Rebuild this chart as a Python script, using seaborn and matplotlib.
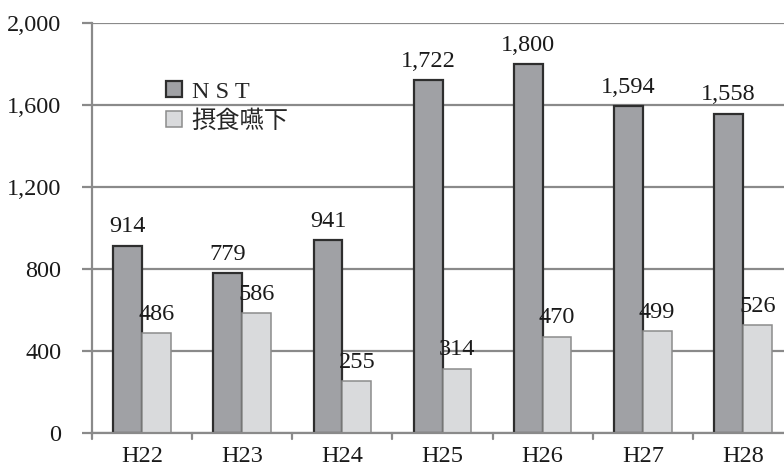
import matplotlib
matplotlib.use("Agg")
import matplotlib.pyplot as plt
import seaborn as sns
import pandas as pd
from matplotlib.patches import Patch

categories = ["H22", "H23", "H24", "H25", "H26", "H27", "H28"]
nst = [914, 779, 941, 1722, 1800, 1594, 1558]
sesshoku = [486, 586, 255, 314, 470, 499, 526]
series_names = ["N S T", "摂食嚥下"]
y_ticks = [0, 400, 800, 1200, 1600, 2000]

df = pd.DataFrame({
    "cat": categories * 2,
    "val": nst + sesshoku,
    "series": [series_names[0]] * len(categories) + [series_names[1]] * len(categories),
})

sns.set_style("white")
plt.rcParams["font.family"] = ["Liberation Serif", "Noto Sans CJK JP", "DejaVu Sans"]

FS = 17.5
fills = ["#a0a1a5", "#d9dadc"]
edges = ["#2e2e2e", "#8c8c8c"]
lws = [1.6, 1.1]
grid_c = "#8a8a8a"
txt_c = "#1a1a1a"

fig = plt.figure(figsize=(7.84, 4.68), dpi=100)
ax = fig.add_axes([92 / 784, 35 / 468, 701 / 784, 410 / 468])

sns.barplot(data=df, x="cat", y="val", hue="series", order=categories,
            hue_order=series_names, palette=fills, width=0.575, gap=0,
            saturation=1, legend=False, ax=ax, zorder=3)

for i, cont in enumerate(ax.containers):
    for bar in cont:
        bar.set_edgecolor(edges[i])
        bar.set_linewidth(lws[i])
    for bar in cont:
        h = bar.get_height()
        ax.annotate(f"{int(round(h)):,}", (bar.get_x() + bar.get_width() / 2, h),
                    xytext=(0, 9.5), textcoords="offset points",
                    ha="center", va="baseline", fontsize=FS, color=txt_c,
                    zorder=5)

ax.set_ylim(0, 2000)
ax.set_xlim(-0.5, len(categories) - 0.5)
ax.set_yticks(y_ticks)
ax.set_yticklabels([f"{v:,}" for v in y_ticks], fontsize=FS, color=txt_c)
ax.yaxis.grid(True, color=grid_c, linewidth=1.6, zorder=0)
ax.set_axisbelow(True)
ax.tick_params(axis="y", length=7, width=1.6, color=grid_c, pad=15, left=True)

ax.set_xticks(range(len(categories)))
ax.set_xticklabels(categories, fontsize=FS, color=txt_c)
ax.tick_params(axis="x", length=0, pad=9)
for k in range(len(categories) + 1):
    ax.plot([k - 0.5, k - 0.5], [0, -0.015], transform=ax.get_xaxis_transform(),
            color=grid_c, linewidth=1.6, clip_on=False, zorder=4)

ax.set_xlabel("")
ax.set_ylabel("")
for s in ["top", "right"]:
    ax.spines[s].set_visible(False)
for s in ["left", "bottom"]:
    ax.spines[s].set_color(grid_c)
    ax.spines[s].set_linewidth(1.6)
    ax.spines[s].set_zorder(4)

handles = [Patch(facecolor=fills[i], edgecolor=edges[i], linewidth=lws[i])
           for i in range(2)]
fig.legend(handles, series_names, loc="upper left",
           bbox_to_anchor=(166 / 784, 1 - 81 / 468), frameon=False,
           fontsize=FS, handlelength=0.65, handleheight=0.65, handletextpad=0.4,
           labelspacing=0.3, borderpad=0, borderaxespad=0)

fig.savefig("out.png", dpi=100)
